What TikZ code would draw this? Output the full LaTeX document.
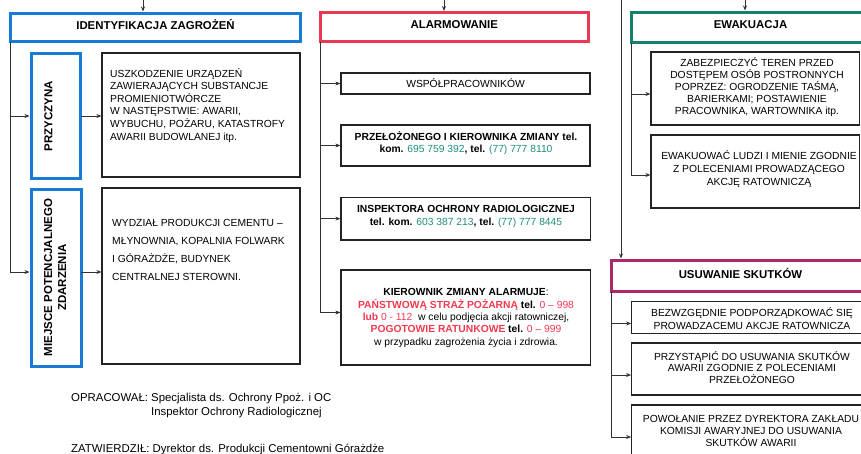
\documentclass[tikz,border=0pt]{standalone}
\usepackage{fontspec}
\setmainfont{Liberation Sans}
\usetikzlibrary{arrows.meta}
\definecolor{cblue}{RGB}{24,124,214}
\definecolor{cred}{RGB}{236,56,84}
\definecolor{cteal}{RGB}{22,128,112}
\definecolor{cmag}{RGB}{172,40,104}
\definecolor{tteal}{RGB}{30,140,125}
\definecolor{tred}{RGB}{242,58,78}
\definecolor{cline}{RGB}{50,50,50}
\definecolor{cbox}{RGB}{35,35,35}
\tikzset{
  hdr/.style={draw, line width=3pt, rectangle, inner sep=0pt, outer sep=0pt, anchor=north west,
    font=\fontsize{11.4}{13}\selectfont\bfseries, text depth=5pt},
  vbox/.style={draw=cblue, line width=3pt, rectangle, inner sep=0pt, outer sep=0pt, anchor=north west},
  bbox/.style={draw=cbox, line width=1.1pt, rectangle, inner sep=0pt, outer sep=0pt, anchor=north west},
  vlab/.style={rotate=90, inner sep=0pt, align=center, font=\fontsize{11.5}{14}\selectfont\bfseries},
  btxt/.style={inner sep=0pt, align=center},
  foot/.style={inner sep=0pt, anchor=base west, font=\fontsize{11.4}{14}\selectfont},
  conn/.style={draw=cline, line width=0.8pt},
  arr/.style={conn, -{Stealth[length=5pt,width=4pt]}, shorten >=0.6pt},
  arrc/.style={conn, -{Stealth[length=5pt,width=4pt]}, shorten >=1.5pt},
}
\begin{document}
\begin{tikzpicture}[x=1pt,y=-1pt]
\useasboundingbox (0,0) rectangle (861,453);
\clip (0,0) rectangle (861,453);

% ---------- headers ----------
\node[hdr, draw=cblue, minimum width=290pt, minimum height=28.5pt] (ident) at (10.5,13) {IDENTYFIKACJA ZAGROŻEŃ};
\node[hdr, draw=cred, minimum width=268.5pt, minimum height=29pt] (alarm) at (320,12.5) {ALARMOWANIE};
\node[hdr, draw=cteal, minimum width=239pt, minimum height=30.5pt] (ewak) at (631,12) {EWAKUACJA};
\node[hdr, draw=cmag, minimum width=258pt, minimum height=31pt] (usuw) at (611.5,260) {USUWANIE SKUTKÓW};

% ---------- left column ----------
\node[vbox, minimum width=49.5pt, minimum height=125pt] (prz) at (31,53.5) {};
\node[vbox, minimum width=50pt, minimum height=177pt] (miej) at (31,189) {};
\node[vlab] (przl) at (48.5,116) {PRZYCZYNA};
\node[vlab] (miejl) at (55,277.5) {MIEJSCE POTENCJALNEGO\\ZDARZENIA};

\node[bbox, minimum width=198pt, minimum height=124pt] (b1) at (102,53) {};
\node[bbox, minimum width=198pt, minimum height=176pt] (b2) at (102,188) {};
\node[inner sep=0pt, anchor=north west, align=left, font=\fontsize{10.3}{12.6}\selectfont] (b1t) at (110,68)
 {USZKODZENIE URZĄDZEŃ\\ZAWIERAJĄCYCH SUBSTANCJE\\PROMIENIOTWÓRCZE\\W NASTĘPSTWIE: AWARII,\\WYBUCHU, POŻARU, KATASTROFY\\AWARII BUDOWLANEJ itp.};
\node[inner sep=0pt, anchor=north west, align=left, font=\fontsize{10.3}{18}\selectfont] (b2t) at (112,219)
 {WYDZIAŁ PRODUKCJI CEMENTU –\\MŁYNOWNIA, KOPALNIA FOLWARK\\I GÓRAŻDŻE, BUDYNEK\\CENTRALNEJ STEROWNI.};

% ---------- middle column ----------
\node[bbox, minimum width=249pt, minimum height=21pt] (wsp) at (341,73) {};
\node[bbox, minimum width=249pt, minimum height=41pt] (prze) at (341,125) {};
\node[bbox, minimum width=249.5pt, minimum height=42.7pt] (insp) at (341,197.3) {};
\node[bbox, minimum width=249.7pt, minimum height=95pt] (kier) at (341,270) {};

\node[btxt, font=\fontsize{10.3}{12}\selectfont] (wspt) at (465.5,83.5) {WSPÓŁPRACOWNIKÓW};
\node[btxt, font=\fontsize{10.3}{11.5}\selectfont] (przet) at (466,143)
 {\textbf{PRZEŁOŻONEGO I KIEROWNIKA ZMIANY tel.}\\\textbf{kom.} \textcolor{tteal}{695 759 392}\textbf{, tel.} \textcolor{tteal}{(77) 777 8110}};
\node[btxt, font=\fontsize{10.3}{13}\selectfont] (inspt) at (466,216)
 {\textbf{INSPEKTORA OCHRONY RADIOLOGICZNEJ}\\\textbf{tel. kom.} \textcolor{tteal}{603 387 213}\textbf{, tel.} \textcolor{tteal}{(77) 777 8445}};
\node[btxt, font=\fontsize{10.3}{12.3}\selectfont] (kiert) at (466,318)
 {\textbf{KIEROWNIK ZMIANY ALARMUJE}:\\
  \textcolor{tred}{\textbf{PAŃSTWOWĄ STRAŻ POŻARNĄ}} \textbf{tel.} \textcolor{tred}{0 – 998}\\
  \textcolor{tred}{\textbf{lub} 0 - 112}\ \ w celu podjęcia akcji ratowniczej,\\
  \textcolor{tred}{\textbf{POGOTOWIE RATUNKOWE}} \textbf{tel.} \textcolor{tred}{0 – 999}\\
  w przypadku zagrożenia życia i zdrowia.};

% ---------- right column ----------
\node[bbox, minimum width=208.5pt, minimum height=73pt] (zab) at (651,52) {};
\node[bbox, minimum width=208.5pt, minimum height=73pt] (ewb) at (651,135) {};
\node[bbox, minimum width=240pt, minimum height=31.5pt] (bez) at (631.7,301.7) {};
\node[bbox, minimum width=240pt, minimum height=52pt] (przyst) at (631.7,343) {};
\node[bbox, minimum width=240pt, minimum height=50pt] (powol) at (631.7,405) {};

\node[btxt, font=\fontsize{10.3}{12}\selectfont] (zabt) at (757,87.5)
 {ZABEZPIECZYĆ TEREN PRZED\\DOSTĘPEM OSÓB POSTRONNYCH\\POPRZEZ: OGRODZENIE TAŚMĄ,\\BARIERKAMI; POSTAWIENIE\\PRACOWNIKA, WARTOWNIKA itp.};
\node[btxt, font=\fontsize{10.3}{13}\selectfont] (ewbt) at (759,169)
 {EWAKUOWAĆ LUDZI I MIENIE ZGODNIE\\Z POLECENIAMI PROWADZĄCEGO\\AKCJĘ RATOWNICZĄ};
\node[btxt, font=\fontsize{10.3}{13}\selectfont] (bezt) at (752,319)
 {BEZWZGĘDNIE PODPORZĄDKOWAĆ SIĘ\\PROWADZACEMU AKCJE RATOWNICZA};
\node[btxt, font=\fontsize{10.3}{11.8}\selectfont] (przystt) at (752,367.5)
 {PRZYSTĄPIĆ DO USUWANIA SKUTKÓW\\AWARII ZGODNIE Z POLECENIAMI\\PRZEŁOŻONEGO};
\node[btxt, font=\fontsize{10.3}{12}\selectfont] (powolt) at (751,431)
 {POWOŁANIE PRZEZ DYREKTORA ZAKŁADU\\KOMISJI AWARYJNEJ DO USUWANIA\\SKUTKÓW AWARII};

% ---------- footer ----------
\node[foot] (opr) at (71,401) {OPRACOWAŁ:};
\node[foot] (opr1) at (151,401) {Specjalista ds. Ochrony Ppoż. i OC};
\node[foot] (opr2) at (151,415) {Inspektor Ochrony Radiologicznej};
\node[foot] (zatw) at (71,452) {ZATWIERDZIŁ: Dyrektor ds. Produkcji Cementowni Górażdże};

% ---------- connectors ----------
\coordinate (t1) at (143,-2);
\coordinate (t2) at (444,-2);
\coordinate (t3) at (745,-2);
\coordinate (tR) at (621,-2);
\draw[arrc] (t1) -- (t1 |- ident.north);
\draw[arrc] (t2) -- (t2 |- alarm.north);
\draw[arrc] (t3) -- (t3 |- ewak.north);
\draw[arrc] (tR) -- (tR |- usuw.north);

% left
\coordinate (m1) at ([yshift=5.5pt]miej.west);
\coordinate (m2) at ([yshift=5.5pt]miej.east);
\draw[arrc] (ident.south west) |- (prz.west);
\draw[arrc] (ident.south west) |- (m1);
\draw[arr] (prz.east) -- (prz.east -| b1.west);
\draw[arr] (m2) -- (m2 -| b2.west);

% middle
\coordinate (k1) at ([yshift=5pt]kier.west);
\draw[arr] (alarm.south west) |- (wsp.west);
\draw[arr] (alarm.south west) |- (prze.west);
\draw[arr] (alarm.south west) |- (insp.west);
\draw[arr] (alarm.south west) |- (k1);

% right
\coordinate (z1) at ([yshift=-5.5pt]zab.west);
\coordinate (e1) at ([yshift=-3.5pt]ewb.west);
\draw[arr] (ewak.south west) |- (z1);
\draw[arr] (ewak.south west) |- (e1);
\coordinate (u1) at ([yshift=-6pt]bez.west);
\coordinate (u2) at ([yshift=-6pt]przyst.west);
\coordinate (u3) at ([yshift=-7pt]powol.west);
\draw[arr] (usuw.south west) |- (u1);
\draw[arr] (usuw.south west) |- (u2);
\draw[arr] (usuw.south west) |- (u3);
\end{tikzpicture}
\end{document}
